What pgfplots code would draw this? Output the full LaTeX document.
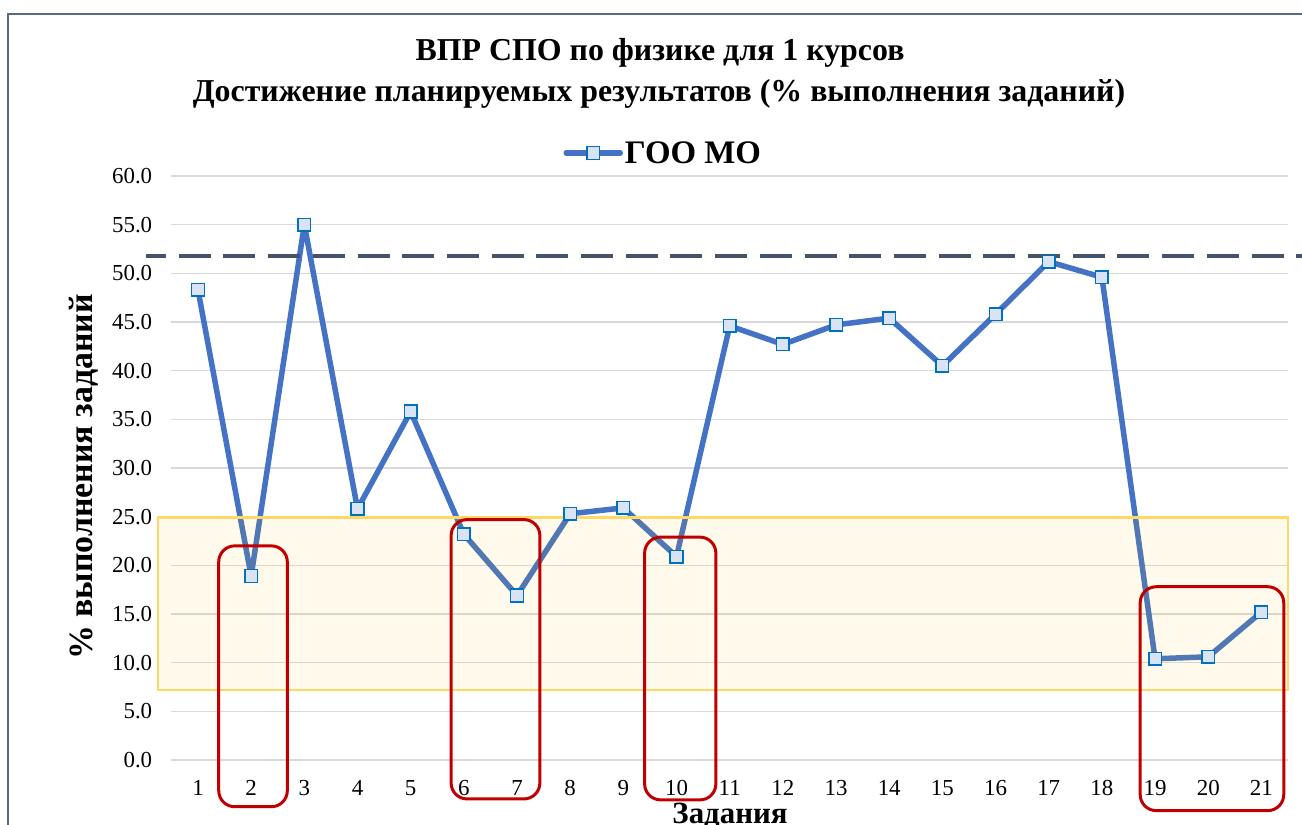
\documentclass[border=0pt]{standalone}
\usepackage{pgfplots}
\pgfplotsset{compat=1.18}
\usepackage{fontspec}
\setmainfont{Liberation Serif}
\definecolor{lineblue}{HTML}{4472C4}
\definecolor{markfill}{HTML}{DAE3F3}
\definecolor{markedge}{HTML}{0070C0}
\definecolor{gridgray}{HTML}{D9D9D9}
\definecolor{framec}{HTML}{5A6A85}
\definecolor{dashc}{HTML}{44546A}
\definecolor{ybord}{HTML}{FFD966}
\definecolor{yfill}{HTML}{FFC000}
\definecolor{redbox}{HTML}{C00000}
\begin{document}
\begin{tikzpicture}
\useasboundingbox (0,0) rectangle (1302bp,825bp);
\fill[white] (0,0) rectangle (1302bp,825bp);
\draw[line width=1.5bp, color=framec] (8bp,-5bp) -- (8bp,811bp) -- (1310bp,811bp);
\node[font=\bfseries\fontsize{32}{38}\selectfont, anchor=base, inner sep=0pt] at (660bp,764bp) {ВПР СПО по физике для 1 курсов};
\node[font=\bfseries\fontsize{32}{38}\selectfont, anchor=base, inner sep=0pt] at (659bp,723bp) {Достижение планируемых результатов (\% выполнения заданий)};
\node[rotate=90, font=\bfseries\fontsize{34}{40}\selectfont, inner sep=0pt] at (84bp,348bp) {\% выполнения заданий};
\node[font=\bfseries\fontsize{31}{36}\selectfont, anchor=base, inner sep=0pt] at (730bp,2bp) {Задания};
\begin{axis}[
  at={(171.4bp,65bp)}, anchor=south west, scale only axis,
  width=1116.6bp, height=584bp,
  xmin=0.5, xmax=21.5, ymin=0, ymax=60, clip=false,
  axis line style={draw=none}, major tick length=0pt,
  xtick={1,...,21}, ytick={0,5,...,60},
  ymajorgrids, grid style={color=gridgray, line width=1.5bp},
  /pgf/number format/assume math mode=true,
  tick label style={font=\fontsize{23}{27}\selectfont},
  yticklabel style={/pgf/number format/fixed, /pgf/number format/precision=1, /pgf/number format/fixed zerofill, inner sep=0pt, xshift=-19bp},
  xticklabel style={inner sep=0pt, yshift=-20bp},
  legend style={at={(0.4405,1.0394)}, anchor=center, draw=none, fill=white, font=\bfseries\fontsize{33}{40}\selectfont, inner xsep=20bp, inner ysep=6bp},
  legend image code/.code={\draw[mark repeat=2,mark phase=2] plot coordinates {(0bp,0bp)(27bp,0bp)(54bp,0bp)};},
]
\addplot[color=lineblue, line width=5.5bp, line join=round, line cap=round, mark=square*, mark size=6.3bp, mark options={fill=markfill, draw=markedge, line width=1.5bp, solid, line join=miter}] coordinates {
(1,48.3)(2,18.9)(3,55.0)(4,25.8)(5,35.8)(6,23.2)(7,16.9)(8,25.3)(9,25.9)(10,20.9)
(11,44.6)(12,42.7)(13,44.7)(14,45.4)(15,40.5)(16,45.8)(17,51.2)(18,49.6)(19,10.4)(20,10.6)(21,15.2)};
\addlegendentry{ГОО МО}
\draw[draw=ybord, line width=2.7bp, fill=yfill, fill opacity=0.08] (axis cs:0.25,7.2) rectangle (axis cs:21.5,24.9);
\draw[redbox, line width=3bp, rounded corners=16bp] (axis cs:1.39,-4.8) rectangle (axis cs:2.68,22.0);
\draw[redbox, line width=3bp, rounded corners=16bp] (axis cs:5.76,-4.0) rectangle (axis cs:7.43,24.7);
\draw[redbox, line width=3bp, rounded corners=16bp] (axis cs:9.40,-4.1) rectangle (axis cs:10.74,22.9);
\draw[redbox, line width=3bp, rounded corners=16bp] (axis cs:18.72,-5.2) rectangle (axis cs:21.42,17.8);
\draw[dashc, line width=4bp, dash pattern=on 32bp off 12.7bp, dash phase=12bp] (axis cs:0.023,51.8) -- (axis cs:21.8,51.8);
\end{axis}
\end{tikzpicture}
\end{document}
